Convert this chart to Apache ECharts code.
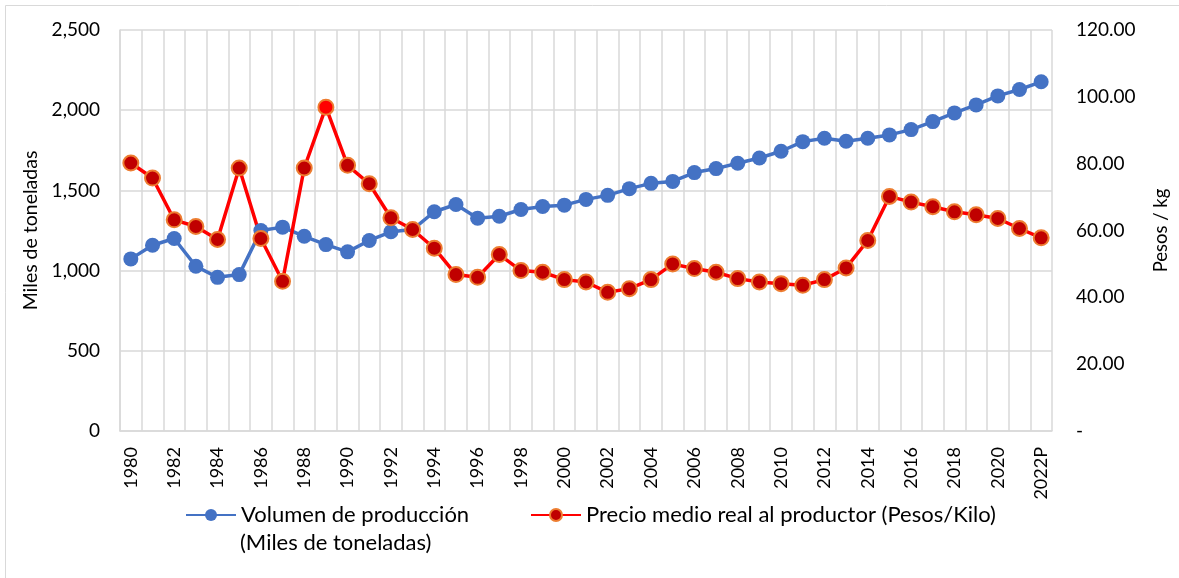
<!DOCTYPE html>
<html>
<head>
<meta charset="utf-8">
<script src="https://cdn.jsdelivr.net/npm/echarts@6/dist/echarts.min.js"></script>
<style>html,body{margin:0;padding:0;background:#fff;}#c{width:1179px;height:578px;}</style>
</head>
<body>
<div id="c"></div>
<script>
const years = ['1980','1981','1982','1983','1984','1985','1986','1987','1988','1989',
  '1990','1991','1992','1993','1994','1995','1996','1997','1998','1999',
  '2000','2001','2002','2003','2004','2005','2006','2007','2008','2009',
  '2010','2011','2012','2013','2014','2015','2016','2017','2018','2019',
  '2020','2021','2022P'];
const volumen = [1073,1158,1200,1027,958,975,1250,1271,1214,1162,
  1117,1188,1242,1256,1367,1412,1327,1339,1381,1400,
  1408,1444,1469,1511,1544,1556,1611,1636,1669,1702,
  1744,1804,1825,1806,1825,1846,1879,1929,1983,2033,
  2089,2129,2177];
const precio = [80.2,75.7,63.2,61.2,57.3,78.7,57.6,44.8,78.7,96.9,
  79.5,74.0,63.8,60.3,54.7,46.8,46.0,52.8,48.0,47.5,
  45.3,44.6,41.5,42.6,45.3,50.0,48.6,47.5,45.6,44.6,
  44.1,43.6,45.3,48.8,57.0,70.2,68.5,67.1,65.6,64.7,
  63.6,60.6,57.8];
const nameVol = 'Volumen de producción';
const nameVol2 = '(Miles de toneladas)';
const namePre = 'Precio medio real al productor (Pesos/Kilo)';
const leftTitle = 'Miles de toneladas';
const rightTitle = 'Pesos / kg';
const peakIndex = precio.indexOf(Math.max(...precio));

const FONT = 'Lato';
const chart = echarts.init(document.getElementById('c'), null, {renderer:'canvas'});
const precioData = precio.map((v,i)=> i===peakIndex ? {value:v, itemStyle:{color:'#FF0000'}} : v);
chart.setOption({
  animation:false,
  backgroundColor:'#fff',
  textStyle:{fontFamily:FONT},
  grid:{left:120, right:127, top:30, bottom:147, containLabel:false},
  graphic:[
    {type:'rect', shape:{x:5.5,y:5.5,width:1200,height:600}, style:{fill:'none', stroke:'#D9D9D9', lineWidth:1}, silent:true},
    {type:'text', left:240, top:532, style:{text:nameVol2, font:'22px '+FONT, fill:'#000'}}
  ],
  legend:[
    {data:[nameVol], left:185, top:504, padding:0, itemWidth:50, itemHeight:15, textStyle:{fontSize:22, color:'#000', fontFamily:FONT}},
    {data:[namePre], left:530, top:504, padding:0, itemWidth:50, itemHeight:15, textStyle:{fontSize:22, color:'#000', fontFamily:FONT}}
  ],
  xAxis:{
    type:'category', data:years, boundaryGap:true,
    axisLine:{lineStyle:{color:'#D9D9D9', width:1.5}},
    axisTick:{show:false},
    axisLabel:{interval:1, rotate:90, fontSize:18, color:'#000', fontFamily:FONT, margin:16},
    splitLine:{show:true, interval:0, lineStyle:{color:'#D9D9D9', width:1.5}}
  },
  yAxis:[
    {type:'value', min:0, max:2500, interval:500,
     name:leftTitle, nameLocation:'middle', nameGap:78, nameRotate:90,
     nameTextStyle:{fontSize:19.5, color:'#000', fontFamily:FONT},
     axisLine:{show:true, lineStyle:{color:'#D9D9D9', width:1.5}}, axisTick:{show:false},
     axisLabel:{fontSize:19, color:'#000', margin:20, fontFamily:FONT,
       formatter:v=>v.toLocaleString('en-US')},
     splitLine:{show:true, lineStyle:{color:'#D9D9D9', width:1.5}}},
    {type:'value', min:0, max:120, interval:20, position:'right',
     name:rightTitle, nameLocation:'middle', nameGap:100, nameRotate:90,
     nameTextStyle:{fontSize:18.5, color:'#000', fontFamily:FONT},
     axisLine:{show:false}, axisTick:{show:false},
     axisLabel:{fontSize:19, color:'#000', margin:24, fontFamily:FONT,
       formatter:v=> v===0 ? '-' : v.toFixed(2)},
     splitLine:{show:false}}
  ],
  series:[
    {name:nameVol, type:'line', data:volumen, yAxisIndex:0,
     symbol:'circle', symbolSize:15, showAllSymbol:true,
     lineStyle:{color:'#4472C4', width:3.5},
     itemStyle:{color:'#4472C4'}},
    {name:namePre, type:'line', data:precioData, yAxisIndex:1,
     symbol:'circle', symbolSize:15, showAllSymbol:true,
     lineStyle:{color:'#FF0000', width:3.5},
     itemStyle:{color:'#C00000', borderColor:'#ED7D31', borderWidth:2}}
  ]
});
</script>
</body>
</html>
